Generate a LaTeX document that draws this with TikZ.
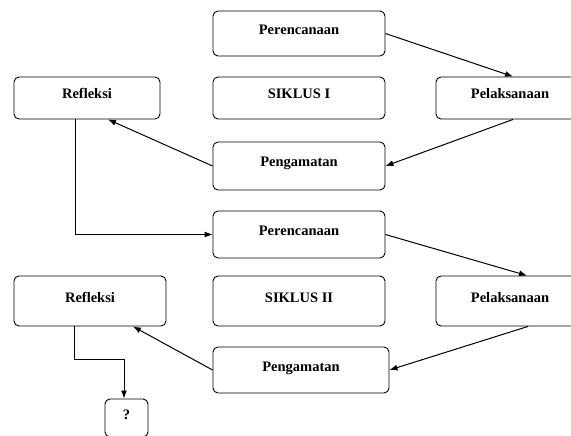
\documentclass[tikz,border=0pt]{standalone}
\usepackage{fontspec}
\setmainfont{Liberation Serif}
\usetikzlibrary{arrows.meta}
\tikzset{
    box/.style={draw, rounded corners=5pt, line width=0.9pt, inner sep=0pt,
        text height=10pt, text depth=8pt,
        font=\fontsize{14.5}{16}\selectfont\bfseries},
    arr/.style={-{Latex[length=8pt,width=6pt]}, line width=1pt}
}
\begin{document}
\begin{tikzpicture}[x=1pt,y=-1pt]
        \useasboundingbox (0,0) rectangle (571,436);
        % siklus I
        \node[box, minimum width=172, minimum height=45] (per1) at (299,33.5) {Perencanaan};
        \node[box, minimum width=172, minimum height=42] (sik1) at (299,98) {SIKLUS I};
        \node[box, minimum width=146, minimum height=42] (ref1) at (87,98) {Refleksi};
        \node[box, minimum width=148, minimum height=42] (pel1) at (510,98) {Pelaksanaan};
        \node[box, minimum width=172, minimum height=48] (pen1) at (299,166) {Pengamatan};
        % siklus II
        \node[box, minimum width=172, minimum height=47] (per2) at (299,234.5) {Perencanaan};
        \node[box, minimum width=172, minimum height=50] (sik2) at (299,301) {SIKLUS II};
        \node[box, minimum width=152, minimum height=50] (ref2) at (90,301) {Refleksi};
        \node[box, minimum width=148, minimum height=50] (pel2) at (510,301) {Pelaksanaan};
        \node[box, minimum width=176, minimum height=46] (pen2) at (301,370) {Pengamatan};
        \node[box, minimum width=43, minimum height=38] (q) at (126.5,418) {?};
        % arrows
        \draw[arr] (per1.east) -- ([xshift=3pt]pel1.north);
        \draw[arr] ([xshift=3pt]pel1.south) -- (pen1.east);
        \draw[arr] (pen1.west) -- ([xshift=21pt]ref1.south);
        \draw[arr] ([xshift=-12pt]ref1.south) |- (per2.west);
        \draw[arr] (per2.east) -- ([xshift=17pt]pel2.north);
        \draw[arr] ([xshift=18pt]pel2.south) -- (pen2.east);
        \draw[arr] (pen2.west) -- ([xshift=43pt]ref2.south);
        \draw[arr] ([xshift=-16pt]ref2.south) -- ++(0,33) -| ([xshift=-2.5pt]q.north);
\end{tikzpicture}
\end{document}
